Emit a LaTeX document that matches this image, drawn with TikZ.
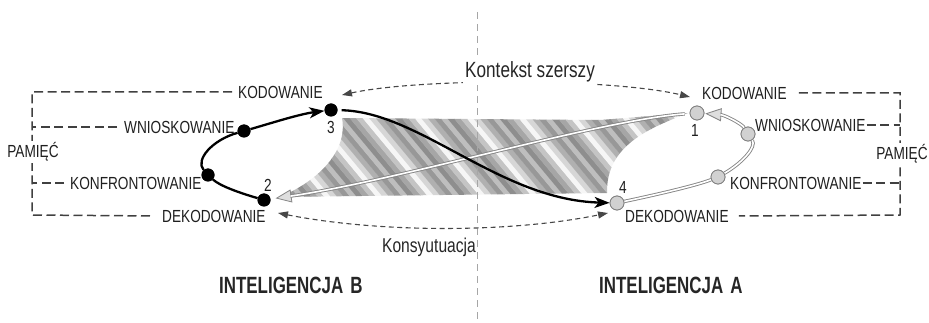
\documentclass[tikz,border=0pt]{standalone}
\usepackage{fontspec}
\setmainfont{Liberation Sans}[FakeStretch=0.78]
\newfontfamily\boldcond{Liberation Sans}[FakeStretch=0.72]
\usetikzlibrary{arrows.meta}
\definecolor{st0}{HTML}{8E8E8E}
\definecolor{st1}{HTML}{A6A6A6}
\definecolor{st2}{HTML}{C4C4C4}
\definecolor{st3}{HTML}{F6F6F6}
\definecolor{st4}{HTML}{D6D6D6}
\definecolor{st5}{HTML}{B0B0B0}
\definecolor{st6}{HTML}{989898}
\definecolor{st7}{HTML}{BEBEBE}
\tikzset{
  lab/.style={font=\fontsize{17.5}{18}\selectfont, inner sep=0pt, text=black!88},
  num/.style={font=\fontsize{17.5}{18}\selectfont, inner sep=0pt, text=black!88},
  pamtxt/.style={lab, fill=white, inner sep=2pt},
  pam/.style={draw=black!75, line width=1.5pt, dash pattern=on 9pt off 4.5pt},
  ctx/.style={draw=black!72, line width=1.1pt, dash pattern=on 5pt off 3.5pt,
    {Triangle[length=10pt,width=7pt]}-{Triangle[length=10pt,width=7pt]}},
  cline/.style={draw=black!35, line width=0.8pt, dash pattern=on 7pt off 5pt},
  bdot/.style={circle, fill=black, inner sep=0pt, minimum size=13pt},
  gdot/.style={circle, fill=black!18, draw=black!50, line width=0.8pt, inner sep=0pt, minimum size=14pt},
  blk/.style={draw=black, line width=2.3pt},
  blkarr/.style={blk, -{Stealth[length=15pt,width=11pt,inset=4pt]}},
  gline/.style={draw=black!48, line width=0.9pt, double=white, double distance=1.6pt},
  garr/.style={draw=black!48, line width=0.8pt, -{Triangle[length=16pt,width=13pt,fill=black!13]}},
  big/.style={font=\boldcond\bfseries\fontsize{23.5}{24}\selectfont, inner sep=0pt, text=black!85}
}
\begin{document}
\begin{tikzpicture}[x=1pt,y=-1pt]
\useasboundingbox (0,0) rectangle (929,323);
% striped band
\begin{scope}
  \clip (342,118) -- (600,120) -- (688,113) .. controls (650,128) and (606,145) .. (607,193)
     -- (280,197) .. controls (320,180) and (348,150) .. (342,118) -- cycle;
  \foreach \i [evaluate=\i as \xx using {120+6.5*\i}, evaluate=\i as \cc using {int(mod(\i,8))}] in {0,...,90} {
    \fill[st\cc] (\xx,100) -- ++(6.9,0) -- ++(100,120) -- ++(-6.9,0) -- cycle;
  }
\end{scope}
% centre line
\coordinate (ctop) at (477,12);
\coordinate (cbot) at (477,323);
\draw[cline] (ctop) -- (cbot);

% dots
\node[bdot] (B3) at (331,110) {};
\node[bdot] (BW) at (244,131) {};
\node[bdot] (BK) at (208,175) {};
\node[bdot] (B2) at (264,200) {};
\node[gdot] (A1) at (697,113) {};
\node[gdot] (AW) at (748,134) {};
\node[gdot] (AK) at (718,177) {};
\node[gdot] (A4) at (617,203) {};

% gray line 1 -> 2
\draw[garr, shorten >=5pt, shorten <=5pt] (A1) .. controls (600,120) and (400,180) .. (B2);
\draw[gline, shorten >=20pt, shorten <=5pt] (A1) .. controls (600,120) and (400,180) .. (B2);
% black S curve 3 -> 4
\draw[blkarr, shorten <=4pt] (B3) .. controls (420,112) and (500,200) .. (A4);
% black loop
\draw[blk] (B2) .. controls (240,193) and (220,186) .. (BK);
\draw[blk] (BK) .. controls (195,160) and (212,140) .. (BW);
\draw[blkarr] (BW) .. controls (275,122) and (300,114) .. (B3);
% gray loop
\draw[gline] (A4) .. controls (650,196) and (695,186) .. (AK);
\draw[gline] (AK) .. controls (742,163) and (757,147) .. (AW);
\draw[garr, shorten >=1pt] (AW) .. controls (742,124) and (725,115) .. (A1);
\draw[gline, shorten >=16pt] (AW) .. controls (742,124) and (725,115) .. (A1);
% redraw dots on top
\node[bdot] at (B3) {};
\node[bdot] at (BW) {};
\node[bdot] at (BK) {};
\node[bdot] at (B2) {};
\node[gdot] at (A1) {};
\node[gdot] at (AW) {};
\node[gdot] at (AK) {};
\node[gdot] at (A4) {};

% numbers
\node[num] (n3) at (331,127) {3};
\node[num] (n2) at (268,185) {2};
\node[num] (n1) at (695,130) {1};
\node[num] (n4) at (623,187) {4};

% left labels
\node[lab, anchor=west] (kodL) at (238,92) {KODOWANIE};
\node[lab, anchor=west] (wnL) at (124,127) {WNIOSKOWANIE};
\node[lab, anchor=west] (konL) at (70,183) {KONFRONTOWANIE};
\node[lab, anchor=west] (dekL) at (162,216) {DEKODOWANIE};
\coordinate (pl1) at (32,92);
\coordinate (pl2) at (32,127);
\coordinate (pl3) at (32,183);
\coordinate (pl4) at (32,215);
\draw[pam] ([xshift=-6pt]kodL.west) -- (pl1) -- (pl4) -- ([xshift=-8pt]dekL.west);
\draw[pam] ([xshift=-7pt]wnL.west) -- (pl2);
\draw[pam] ([xshift=-6pt]konL.west) -- (pl3);
\node[pamtxt] (pamL) at (33,152) {PAMIĘĆ};

% right labels
\node[lab, anchor=west] (kodR) at (702,93) {KODOWANIE};
\node[lab, anchor=west] (wnR) at (755,125) {WNIOSKOWANIE};
\node[lab, anchor=west] (konR) at (730,183) {KONFRONTOWANIE};
\node[lab, anchor=west] (dekR) at (625,216) {DEKODOWANIE};
\coordinate (pr1) at (900,93);
\coordinate (pr2) at (900,125);
\coordinate (pr3) at (900,183);
\coordinate (pr4) at (900,215);
\draw[pam] ([xshift=12pt]kodR.east) -- (pr1) -- (pr4) -- ([xshift=10pt]dekR.east);
\draw[pam] ([xshift=1pt]wnR.east) -- (pr2);
\draw[pam] ([xshift=1pt]konR.east) -- (pr3);
\node[pamtxt] (pamR) at (902,154) {PAMIĘĆ};

% context arcs
\coordinate (cuL) at (342,95);
\coordinate (cuR) at (690,97);
\coordinate (clL) at (278,213);
\coordinate (clR) at (608,213);
\draw[ctx] (cuL) .. controls (420,78) and (610,78) .. (cuR);
\draw[ctx] (clL) .. controls (380,233) and (510,233) .. (clR);
\node[anchor=base west, inner sep=2pt, fill=white, font=\fontsize{22}{24}\selectfont, text=black!85] (kont) at (463,78) {Kontekst szerszy};
\node[anchor=base east, inner sep=0pt, font=\fontsize{20}{22}\selectfont, text=black!85] (kons) at (476,252) {Konsyutuacja};

% titles
\node[big, anchor=west] (intB) at (219,285) {INTELIGENCJA\hspace{7pt}B};
\node[big, anchor=west] (intA) at (599,285) {INTELIGENCJA\hspace{7pt}A};
\end{tikzpicture}
\end{document}
